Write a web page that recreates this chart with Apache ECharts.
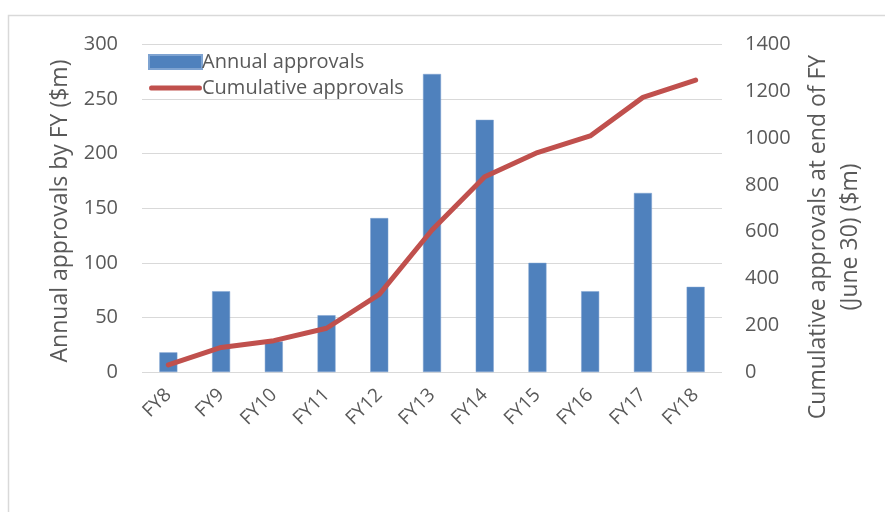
<!DOCTYPE html>
<html lang="en">
<head>
    <meta charset="UTF-8">
    <title>Approvals by FY</title>
    <style>
        body {
            margin: 0;
            padding: 0;
            background: #fff;
        }
        #chart {
            width: 885px;
            height: 512px;
        }
    </style>
    <script src="https://cdn.jsdelivr.net/npm/echarts@6/dist/echarts.min.js"></script>
</head>
<body>
    <div id="chart"></div>
    <script>
        // data
        const years = ['FY8', 'FY9', 'FY10', 'FY11', 'FY12', 'FY13', 'FY14', 'FY15', 'FY16', 'FY17', 'FY18'];
        const annual = [18, 74, 28, 52, 141, 273, 231, 100, 74, 164, 78];
        const cumulative = [30, 105, 134, 187, 332, 607, 835, 938, 1009, 1174, 1248];

        const textColor = '#595959';
        const gridColor = '#d9d9d9';
        const font = '"Open Sans", sans-serif';

        const chart = echarts.init(document.getElementById('chart'));

        const option = {
            animation: false,
            textStyle: { fontFamily: font, color: textColor },
            grid: {
                left: 142,
                right: 163,
                top: 44.5,
                bottom: 140
            },
            legend: {
                orient: 'vertical',
                left: 143,
                top: 47,
                itemWidth: 53,
                itemHeight: 14,
                itemGap: 6,
                textStyle: { fontSize: 20, color: textColor, fontFamily: font, padding: [0, 0, 0, -5] },
                data: [
                    { name: 'Annual approvals', icon: 'rect' },
                    {
                        name: 'Cumulative approvals',
                        // thin bar in a 14px box so it reads as a line
                        icon: 'path://M0,0L0.01,0M0,14L0.01,14M2,4.5L51,4.5Q53,4.5,53,7Q53,9.5,51,9.5L2,9.5Q0,9.5,0,7Q0,4.5,2,4.5Z'
                    }
                ]
            },
            xAxis: {
                type: 'category',
                data: years,
                axisLine: { show: false },
                axisTick: { show: false },
                axisLabel: {
                    rotate: 45,
                    margin: 20,
                    fontSize: 19,
                    color: textColor,
                    fontFamily: font
                }
            },
            yAxis: [
                {
                    type: 'value',
                    min: 0,
                    max: 300,
                    interval: 50,
                    axisLine: { show: false },
                    axisTick: { show: false },
                    axisLabel: { fontSize: 20, margin: 24, color: textColor, fontFamily: font },
                    splitLine: { lineStyle: { color: gridColor, width: 1 } }
                },
                {
                    type: 'value',
                    min: 0,
                    max: 1400,
                    interval: 200,
                    axisLine: { show: false },
                    axisTick: { show: false },
                    axisLabel: {
                        fontSize: 20,
                        margin: 23,
                        color: textColor,
                        fontFamily: font,
                        formatter: v => String(v)
                    },
                    splitLine: { show: false }
                }
            ],
            series: [
                {
                    name: 'Annual approvals',
                    type: 'bar',
                    data: annual,
                    barWidth: 18,
                    itemStyle: { color: '#4f81bd', borderColor: '#7ea3d1', borderWidth: 0.5 }
                },
                {
                    name: 'Cumulative approvals',
                    type: 'line',
                    yAxisIndex: 1,
                    data: cumulative,
                    symbol: 'none',
                    lineStyle: { color: '#c0504d', width: 5, cap: 'round', join: 'round' },
                    itemStyle: { color: '#c0504d' }
                }
            ],
            graphic: [
                {
                    type: 'polyline',
                    shape: { points: [[8.5, 512], [8.5, 15.5], [885, 15.5]] },
                    style: { stroke: gridColor, lineWidth: 1.5, fill: null },
                    silent: true
                },
                // axis titles
                {
                    type: 'text',
                    x: 60,
                    y: 211,
                    rotation: Math.PI / 2,
                    silent: true,
                    style: {
                        text: 'Annual approvals by FY ($m)',
                        fontSize: 23,
                        fontFamily: font,
                        fill: textColor,
                        align: 'center',
                        verticalAlign: 'middle'
                    }
                },
                {
                    type: 'text',
                    x: 834,
                    y: 237,
                    rotation: Math.PI / 2,
                    silent: true,
                    style: {
                        text: 'Cumulative approvals at end of FY\n(June 30) ($m)',
                        fontSize: 23,
                        lineHeight: 32,
                        fontFamily: font,
                        fill: textColor,
                        align: 'center',
                        verticalAlign: 'middle'
                    }
                }
            ]
        };

        chart.setOption(option);
    </script>
</body>
</html>
